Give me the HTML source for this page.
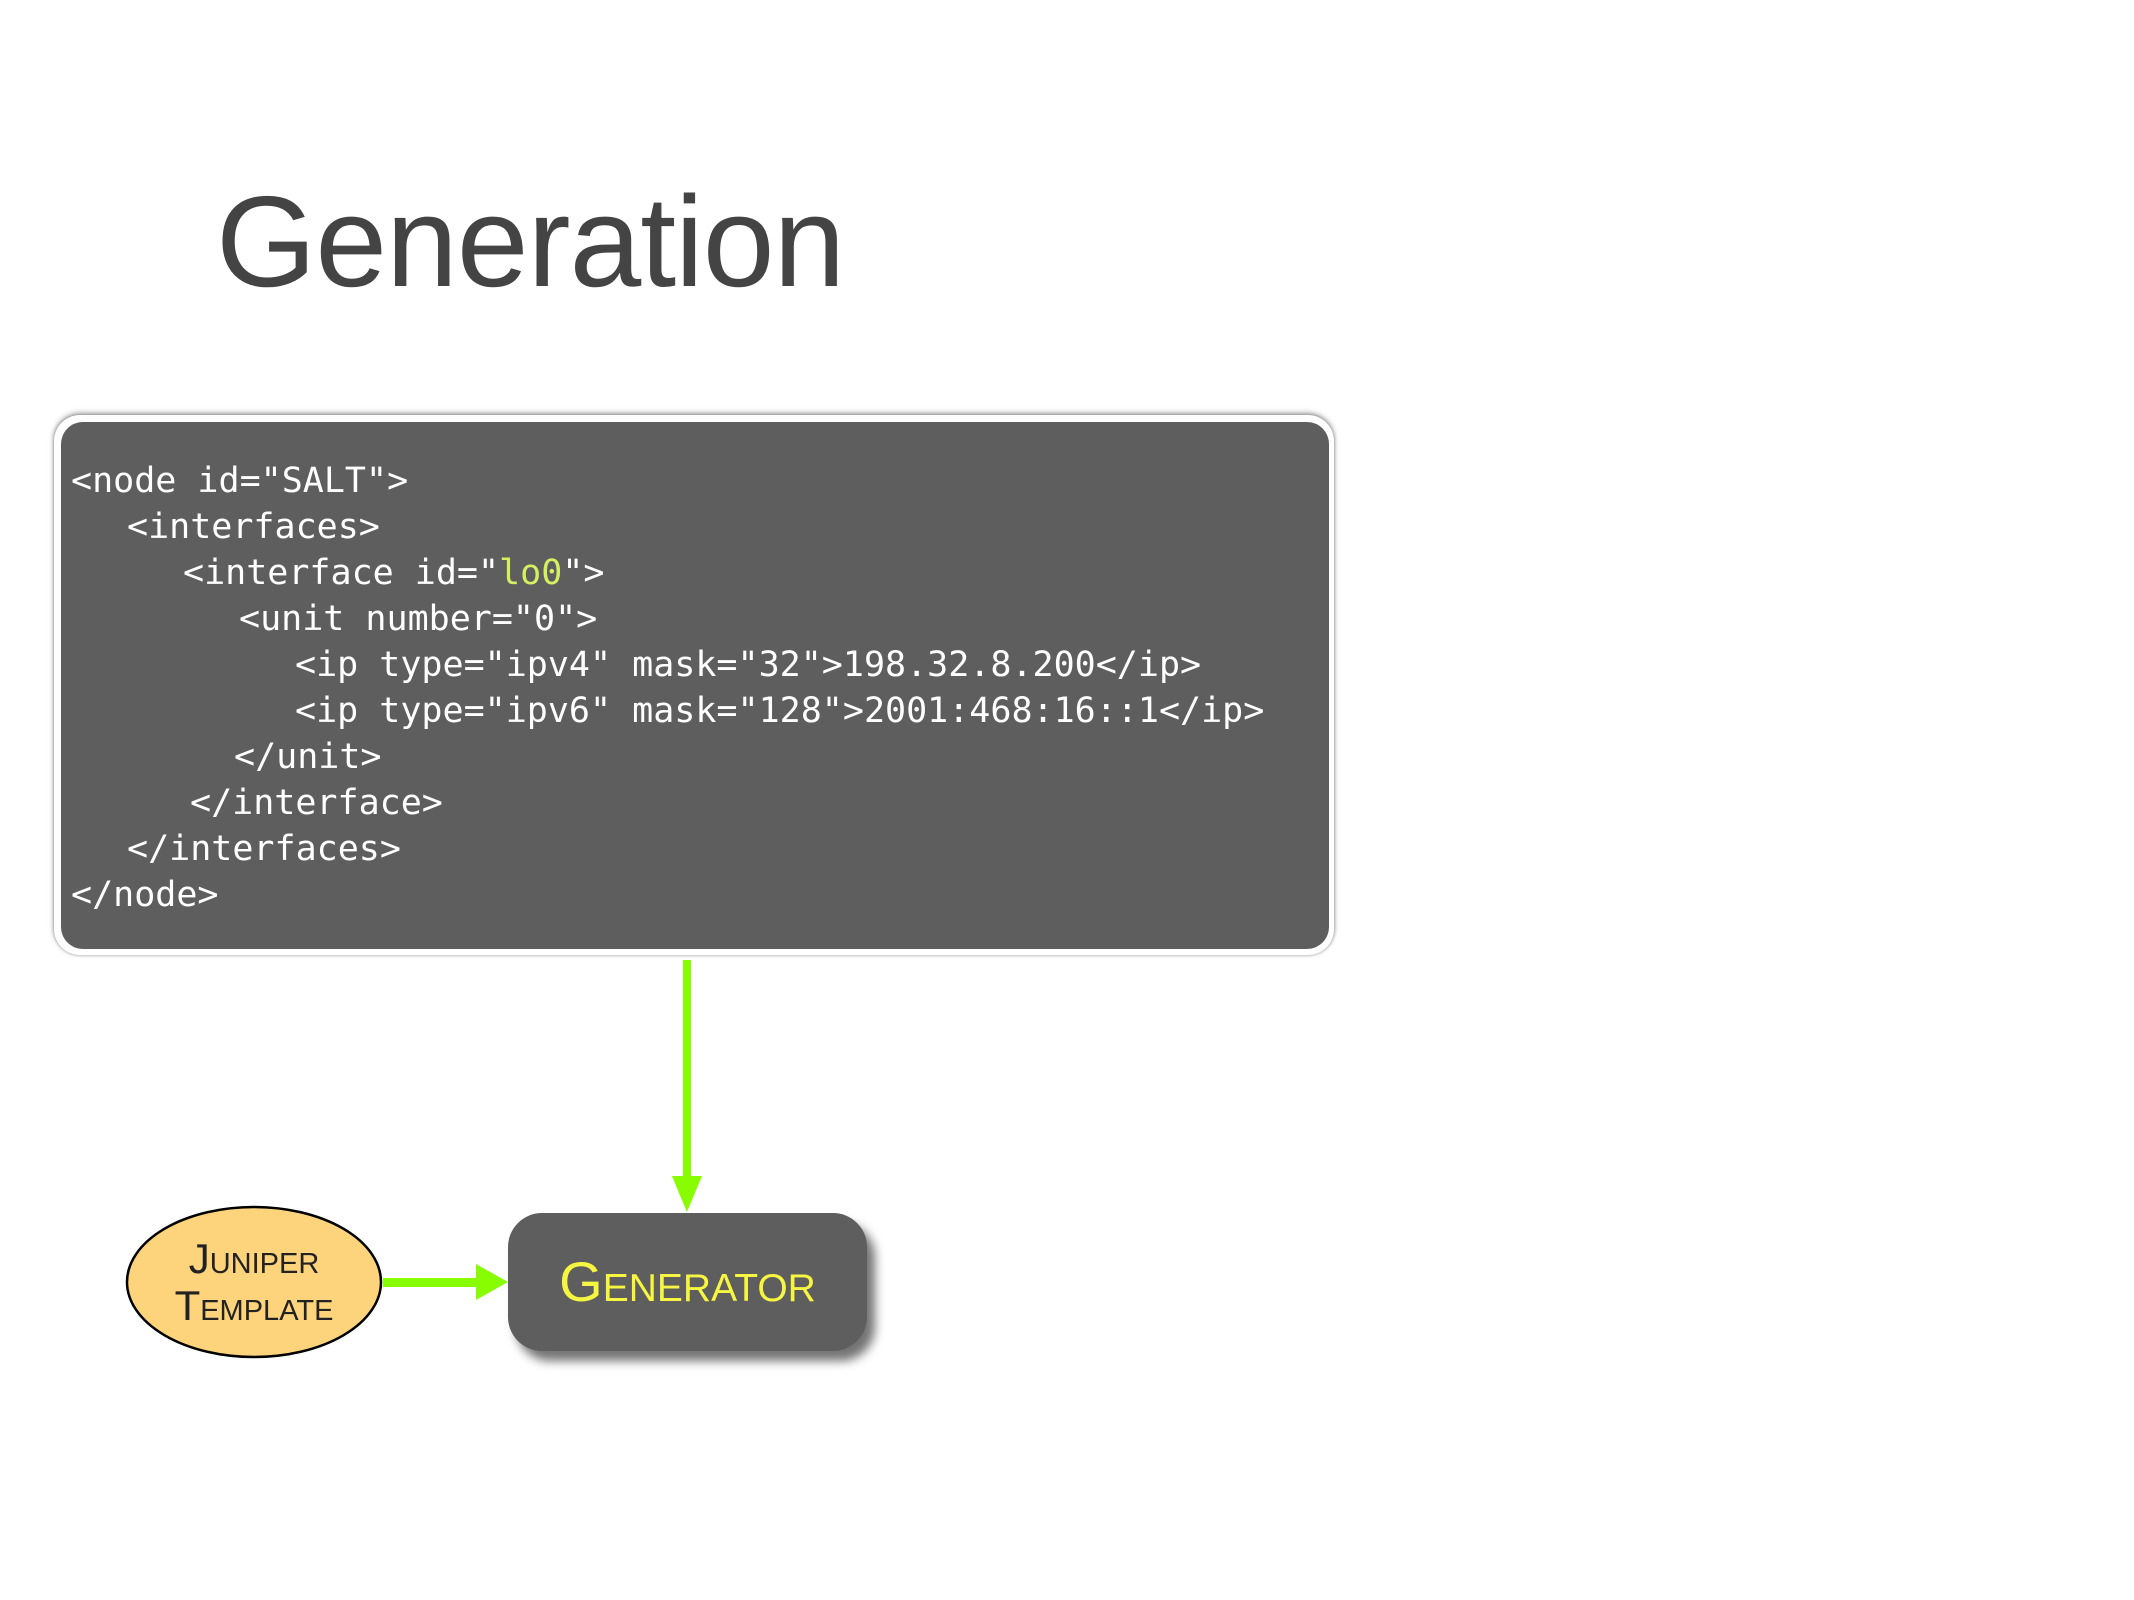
<!DOCTYPE html>
<html><head><meta charset="utf-8"><style>
body{margin:0;width:2134px;height:1600px;background:#fff;position:relative;overflow:hidden;font-family:"Liberation Sans",sans-serif}
.title{position:absolute;left:216px;top:168px;font-size:129px;color:#444;letter-spacing:-1px}
.outer{position:absolute;left:54px;top:415px;width:1280px;height:540px;border-radius:26px;background:#fff;box-shadow:0 -2px 6px rgba(0,0,0,.35),0 0 3px rgba(0,0,0,.3)}
.inner{position:absolute;left:61px;top:422px;width:1268px;height:527px;border-radius:22px;background:#5e5e5e}
.code{position:absolute;left:71px;top:458px;margin:0;font-family:"DejaVu Sans Mono","Liberation Mono",monospace;font-size:35px;line-height:46px;color:#fff;white-space:pre}
.code div{height:46px}
.g{color:#d4f060}
.gen{position:absolute;left:508px;top:1213px;width:359px;height:138px;border-radius:34px;background:#5e5e5e;box-shadow:8px 10px 10px rgba(0,0,0,.55);color:#f5f542;font-size:56px;font-variant:small-caps;text-align:center;line-height:138px}
</style></head><body>
<div class="title">Generation</div>
<div class="outer"></div><div class="inner"></div>
<div class="code"><div>&lt;node id="SALT"&gt;</div><div style="margin-left:56px">&lt;interfaces&gt;</div><div style="margin-left:112px">&lt;interface id="<span class="g">lo0</span>"&gt;</div><div style="margin-left:168px">&lt;unit number="0"&gt;</div><div style="margin-left:224px">&lt;ip type="ipv4" mask="32"&gt;198.32.8.200&lt;/ip&gt;</div><div style="margin-left:224px">&lt;ip type="ipv6" mask="128"&gt;2001:468:16::1&lt;/ip&gt;</div><div style="margin-left:163px">&lt;/unit&gt;</div><div style="margin-left:119px">&lt;/interface&gt;</div><div style="margin-left:56px">&lt;/interfaces&gt;</div><div>&lt;/node&gt;</div></div>
<svg width="2134" height="1600" style="position:absolute;left:0;top:0">
<rect x="683" y="960" width="8" height="220" fill="#88fc00"/>
<polygon points="672,1176 702,1176 687,1212" fill="#88fc00"/>
<rect x="383" y="1278" width="100" height="9" fill="#88fc00"/>
<polygon points="476,1264 476,1300 508,1282" fill="#88fc00"/>
<ellipse cx="254" cy="1282" rx="127" ry="75" fill="#fdd47c" stroke="#000" stroke-width="2.5"/>
<text x="254" y="1273" text-anchor="middle" font-family="Liberation Sans" font-size="42" fill="#222" style="font-variant:small-caps">Juniper</text>
<text x="254" y="1320" text-anchor="middle" font-family="Liberation Sans" font-size="42" fill="#222" style="font-variant:small-caps">Template</text>
</svg>
<div class="gen">Generator</div>
</body></html>
